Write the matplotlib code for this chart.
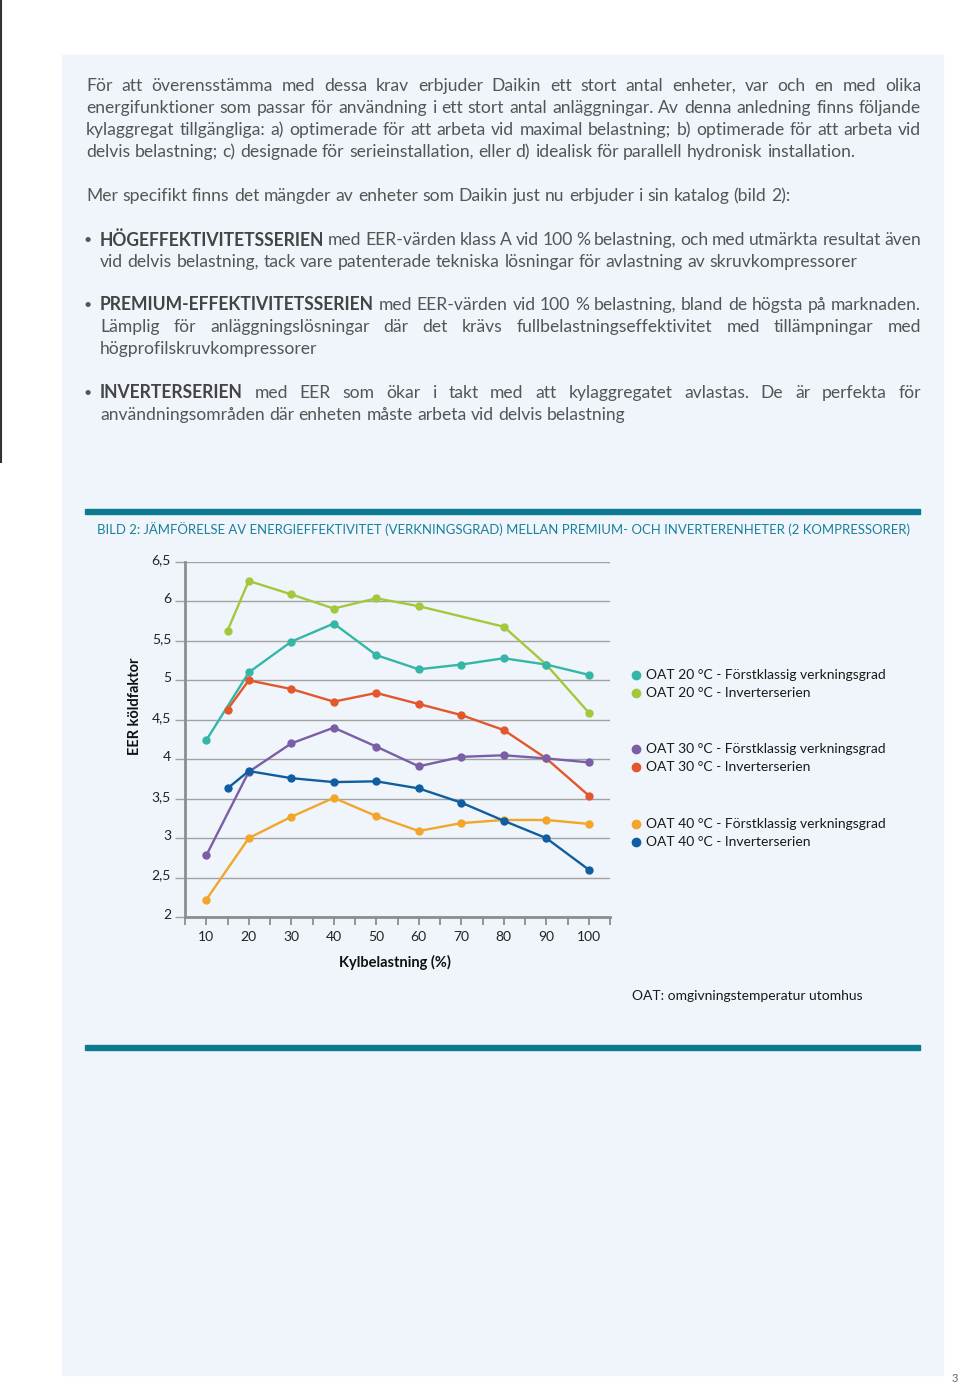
import numpy as np
import matplotlib
matplotlib.use('Agg')
import matplotlib.pyplot as plt
import matplotlib.transforms as mtransforms
from matplotlib.patches import Rectangle
from matplotlib.ticker import FuncFormatter, MultipleLocator

W, H = 960, 1385
FONT = ['Lato', 'DejaVu Sans']

# EER values (Kylbelastning %)
load = [10, 20, 30, 40, 50, 60, 70, 80, 90, 100]
oat20_prem = [4.24, 5.10, 5.49, 5.72, 5.32, 5.14, 5.20, 5.28, 5.20, 5.07]
oat20_inv_x = [15, 20, 30, 40, 50, 60, 80, 90, 100]
oat20_inv = [5.63, 6.26, 6.09, 5.91, 6.04, 5.94, 5.68, 5.20, 4.59]
oat30_prem = [2.78, 3.84, 4.20, 4.40, 4.16, 3.91, 4.03, 4.05, 4.01, 3.96]
inv_x = [15, 20, 30, 40, 50, 60, 70, 80, 90, 100]
oat30_inv = [4.63, 5.00, 4.89, 4.73, 4.84, 4.70, 4.56, 4.37, 4.01, 3.54]
oat40_prem = [2.22, 3.00, 3.27, 3.51, 3.28, 3.09, 3.19, 3.23, 3.23, 3.18]
oat40_inv = [3.63, 3.85, 3.76, 3.71, 3.72, 3.63, 3.45, 3.22, 3.00, 2.60]

labels = ['OAT 20 °C - Förstklassig verkningsgrad', 'OAT 20 °C - Inverterserien',
          'OAT 30 °C - Förstklassig verkningsgrad', 'OAT 30 °C - Inverterserien',
          'OAT 40 °C - Förstklassig verkningsgrad', 'OAT 40 °C - Inverterserien']
colors = ['#36b6a6', '#a4c83c', '#7a5ea6', '#e3572c', '#f2a62a', '#105ea0']

# draw order: lime under teal etc.
series = [
    (oat20_inv_x, oat20_inv, 1),
    (load, oat20_prem, 0),
    (inv_x, oat30_inv, 3),
    (load, oat30_prem, 2),
    (load, oat40_prem, 4),
    (inv_x, oat40_inv, 5),
]

para1 = ["För att överensstämma med dessa krav erbjuder Daikin ett stort antal enheter, var och en med olika",
         "energifunktioner som passar för användning i ett stort antal anläggningar. Av denna anledning finns följande",
         "kylaggregat tillgängliga: a) optimerade för att arbeta vid maximal belastning; b) optimerade för att arbeta vid",
         "delvis belastning; c) designade för serieinstallation, eller d) idealisk för parallell hydronisk installation."]
para2 = "Mer specifikt finns det mängder av enheter som Daikin just nu erbjuder i sin katalog (bild 2):"
bullets = [
    ("HÖGEFFEKTIVITETSSERIEN",
     ["med EER-värden klass A vid 100 % belastning, och med utmärkta resultat även",
      "vid delvis belastning, tack vare patenterade tekniska lösningar för avlastning av skruvkompressorer"]),
    ("PREMIUM-EFFEKTIVITETSSERIEN",
     ["med EER-värden vid 100 % belastning, bland de högsta på marknaden.",
      "Lämplig för anläggningslösningar där det krävs fullbelastningseffektivitet med tillämpningar med",
      "högprofilskruvkompressorer"]),
    ("INVERTERSERIEN",
     ["med EER som ökar i takt med att kylaggregatet avlastas. De är perfekta för",
      "användningsområden där enheten måste arbeta vid delvis belastning"]),
]
caption = "BILD 2: JÄMFÖRELSE AV ENERGIEFFEKTIVITET (VERKNINGSGRAD) MELLAN PREMIUM- OCH INVERTERENHETER (2 KOMPRESSORER)"

fig = plt.figure(figsize=(W / 100, H / 100), dpi=100)
fig.patch.set_facecolor('white')
page = fig.add_axes([0, 0, 1, 1])
page.set_xlim(0, W)
page.set_ylim(H, 0)
page.axis('off')
page.add_patch(Rectangle((62, 55), 881, 1320, color='#eff5fb', zorder=0))
page.plot([1, 1], [0, 462], color='#333333', lw=1.5)
rend = fig.canvas.get_renderer()


def width(s, fs, weight='normal'):
    t = page.text(0, 0, s, fontsize=fs, fontweight=weight, family=FONT)
    w = t.get_window_extent(rend).width
    t.remove()
    return w


def draw_line(tokens, x0, y, fs, x1=None, color='#555555'):
    # tokens: list of (word, weight); justified when x1 is given
    ws = [width(w, fs, wt) for w, wt in tokens]
    if x1 is not None and len(tokens) > 1:
        gap = (x1 - x0 - sum(ws)) / (len(tokens) - 1)
    else:
        gap = width('x x', fs) - width('xx', fs)
    x = x0
    for (w, wt), wd in zip(tokens, ws):
        c = '#444444' if wt == 'bold' else color
        page.text(x, y, w, fontsize=fs, fontweight=wt, family=FONT, color=c,
                  ha='left', va='center')
        x += wd + gap


def toks(s, weight='normal'):
    return [(w, weight) for w in s.split(' ')]


fs_body = 12 * 835 / width(para1[1], 12) * 0.99
y = 86
for i, ln in enumerate(para1):
    draw_line(toks(ln), 86, y, fs_body, 921 if i < 3 else None)
    y += 22
draw_line(toks(para2), 86, 196, fs_body)

by = [240, 305, 393]
for (head, lines), y0 in zip(bullets, by):
    page.text(88, y0, '•', fontsize=fs_body * 0.8, family=FONT, color='#555555',
              ha='center', va='center')
    for j, ln in enumerate(lines):
        t = toks(ln)
        if j == 0:
            t = [(head, 'bold')] + t
        just = 921 if j < len(lines) - 1 or (head == 'PREMIUM-EFFEKTIVITETSSERIEN' and j == 0) else None
        draw_line(t, 100, y0 + 22 * j, fs_body, just)

# teal rules and caption
page.add_patch(Rectangle((85, 509), 835, 5, color='#0d7b8f', zorder=2))
page.add_patch(Rectangle((85, 1045), 835, 5, color='#0d7b8f', zorder=2))
fs_cap = 10 * 805 / width(caption, 10)
page.text(97, 529, caption, fontsize=fs_cap, family=FONT, color='#1a7f9c',
          ha='left', va='center')

# chart
ax = fig.add_axes([185 / W, 1 - 917 / H, 425 / W, 355 / H])
ax.patch.set_alpha(0)
for xs, ys, k in series:
    ax.plot(xs, ys, color=colors[k], lw=1.7, marker='o', ms=5, clip_on=False)
ax.set_xlim(5, 105)
ax.set_ylim(2, 6.5)
ax.yaxis.set_major_locator(MultipleLocator(0.5))
ax.yaxis.set_major_formatter(FuncFormatter(lambda v, p: ('%g' % v).replace('.', ',')))
ax.set_xticks(load)
ax.xaxis.set_minor_locator(MultipleLocator(5))
ax.grid(axis='y', color='#a2a2a2', lw=1)
ax.set_axisbelow(True)
for s in ['top', 'right']:
    ax.spines[s].set_visible(False)
for s in ['left', 'bottom']:
    ax.spines[s].set_color('#8d8d8d')
    ax.spines[s].set_linewidth(2)
ax.tick_params(axis='y', length=7, width=1, color='#a2a2a2', pad=3,
               labelsize=10, labelcolor='#222222')
ax.tick_params(axis='x', which='both', length=6, width=1.3, color='#8d8d8d', pad=4,
               labelsize=10, labelcolor='#222222')
shift = mtransforms.ScaledTranslation(0, 3 / 100, fig.dpi_scale_trans)
for lb in ax.get_yticklabels():
    lb.set_transform(lb.get_transform() + shift)
for lb in ax.get_xticklabels() + ax.get_yticklabels():
    lb.set_family(FONT)

page.text(135, 706, 'EER köldfaktor', rotation=90, fontsize=10.5, fontweight='bold',
          family=FONT, color='#111111', ha='center', va='center')
page.text(395, 962, 'Kylbelastning (%)', fontsize=10.5, fontweight='bold',
          family=FONT, color='#111111', ha='center', va='center')

# legend
ly = [675, 693, 749, 767, 824, 842]
for k in range(6):
    page.plot(636, ly[k], 'o', color=colors[k], ms=6)
    page.text(646, ly[k], labels[k], fontsize=10, family=FONT, color='#1a1a1a',
              ha='left', va='center')
page.text(632, 996, 'OAT: omgivningstemperatur utomhus', fontsize=10, family=FONT,
          color='#1a1a1a', ha='left', va='center')
page.text(955, 1379, '3', fontsize=8, family=FONT, color='#666666', ha='center', va='center')

fig.savefig('out.png', dpi=100, facecolor='white')
